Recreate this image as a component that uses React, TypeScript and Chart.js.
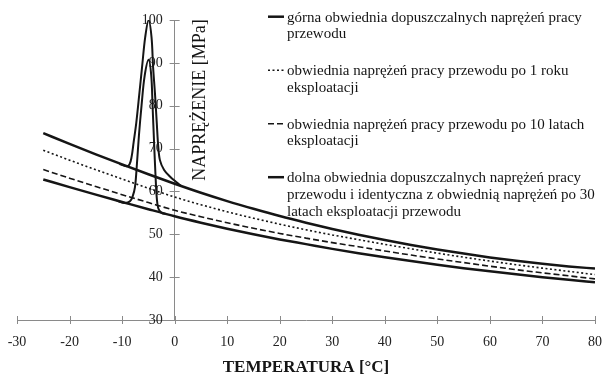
import React, { useEffect, useRef } from "react";
import { Chart, registerables } from "chart.js";

Chart.register(...registerables);

// ---- data ----
const temperatures = [-25, -20, -15, -10, -5, 0, 5, 10, 15, 20, 25, 30, 35, 40, 45, 50, 55, 60, 65, 70, 75, 80];
const upperEnvelope = [73.6, 71.1, 68.65, 66.3, 64.0, 61.8, 59.7, 57.75, 55.95, 54.25, 52.7, 51.25, 49.9, 48.65, 47.5, 46.45, 45.5, 44.6, 43.8, 43.1, 42.5, 42.0];
const afterOneYear = [69.6, 67.3, 65.05, 62.9, 60.75, 58.7, 56.9, 55.25, 53.75, 52.35, 51.05, 49.85, 48.75, 47.65, 46.6, 45.6, 44.65, 43.75, 42.9, 42.1, 41.35, 40.6];
const afterTenYears = [65.1, 63.1, 61.15, 59.25, 57.4, 55.6, 54.1, 52.7, 51.4, 50.2, 49.1, 48.05, 47.1, 46.1, 45.15, 44.25, 43.4, 42.55, 41.75, 41.0, 40.3, 39.6];
const lowerEnvelope = [62.8, 61.0, 59.25, 57.55, 55.85, 54.2, 52.7, 51.3, 50.0, 48.8, 47.7, 46.6, 45.6, 44.65, 43.75, 42.9, 42.1, 41.35, 40.65, 40.0, 39.38, 38.8];

const peakHighX = [-10.5, -9.2, -8.6, -8.2, -7.8, -7.3, -6.7, -6.2, -5.6, -4.95, -4.4, -4.1, -3.75, -3.4, -3.15, -2.8, -2.0, -0.9, 0.3, 1.2];
const peakHighY = [66.4, 65.9, 66.3, 68.0, 71.5, 76.0, 83.0, 89.0, 96.0, 100.0, 96.0, 89.0, 83.0, 76.0, 71.0, 67.3, 65.0, 63.5, 62.2, 61.3];
const peakLowX = [-11.0, -9.4, -8.5, -8.0, -7.55, -7.2, -6.8, -6.3, -5.7, -4.95, -4.45, -4.2, -3.9, -3.65, -3.4, -3.1, -2.5, -1.5];
const peakLowY = [57.8, 57.3, 57.7, 58.8, 61.0, 66.0, 73.0, 80.0, 87.0, 90.7, 87.0, 80.0, 71.0, 64.0, 58.5, 56.0, 55.0, 54.7];

const xMin = -30;
const xMax = 80;
const xStep = 10;
const yMin = 30;
const yMax = 100;
const yStep = 10;

const legendLabels: string[][] = [
  ["górna obwiednia dopuszczalnych naprężeń pracy", "przewodu"],
  ["obwiednia naprężeń pracy przewodu po 1 roku", "eksploatacji"],
  ["obwiednia naprężeń pracy przewodu po 10 latach", "eksploatacji"],
  ["dolna obwiednia dopuszczalnych naprężeń pracy", "przewodu i identyczna z obwiednią naprężeń po 30", "latach eksploatacji przewodu"],
];
const xTitle = "TEMPERATURA [°C]";
const yTitle = "NAPRĘŻENIE [MPa]";

// ---- style ----
const SERIF = "'Liberation Serif', 'Times New Roman', serif";
const INK = "#151515";
const AXIS = "#8a8a8a";

const pts = (xs: number[], ys: number[]) => xs.map((x, i) => ({ x, y: ys[i] }));

const customPlugin = {
  id: "customAxes",
  afterLayout(chart: any) {
    const x = chart.scales.x;
    const y = chart.scales.y;
    const x0 = x.getPixelForValue(0);
    y.right = x0;
    y.left = x0 - 60;
    y.width = 60;
  },
  beforeDatasetsDraw(chart: any) {
    const { ctx } = chart;
    const x = chart.scales.x;
    const y = chart.scales.y;
    const x0 = x.getPixelForValue(0);
    const yBase = y.getPixelForValue(yMin);
    ctx.save();
    ctx.strokeStyle = AXIS;
    ctx.lineWidth = 1;
    ctx.beginPath();
    x.ticks.forEach((t: any) => {
      const px = Math.round(x.getPixelForValue(t.value)) + 0.5;
      ctx.moveTo(px, yBase - 4);
      ctx.lineTo(px, yBase + 4);
    });
    y.ticks.forEach((t: any) => {
      const py = Math.round(y.getPixelForValue(t.value)) + 0.5;
      ctx.moveTo(x0 - 5, py);
      ctx.lineTo(x0 + 5, py);
    });
    ctx.stroke();
    // rotated y-axis title to the right of the axis
    ctx.fillStyle = INK;
    ctx.font = `18px ${SERIF}`;
    ctx.translate(x0 + 26, y.getPixelForValue(yMax) + 80);
    ctx.rotate(-Math.PI / 2);
    ctx.textAlign = "center";
    ctx.textBaseline = "middle";
    ctx.fillText(yTitle, 0, 0);
    ctx.restore();
  },
  afterDraw(chart: any) {
    const { ctx } = chart;
    const ds = chart.data.datasets;
    ctx.save();
    ctx.font = `15px ${SERIF}`;
    ctx.fillStyle = INK;
    ctx.textBaseline = "alphabetic";
    ctx.textAlign = "left";
    const left = 268;
    const textX = 287;
    const firstBase = 21.7;
    const itemGap = 53.5;
    const lineGap = 16.7;
    legendLabels.forEach((lines, i) => {
      const base = firstBase + i * itemGap;
      const d = ds[i];
      ctx.beginPath();
      ctx.strokeStyle = d.borderColor;
      ctx.lineWidth = d.borderWidth;
      ctx.setLineDash(d.borderDash || []);
      ctx.moveTo(left, base - 5);
      ctx.lineTo(left + 16, base - 5);
      ctx.stroke();
      lines.forEach((t, j) => ctx.fillText(t, textX, base + j * lineGap));
    });
    ctx.restore();
  },
};

export default function App() {
  const ref = useRef<HTMLCanvasElement | null>(null);

  useEffect(() => {
    if (!ref.current) return;
    const tickFont = { family: SERIF, size: 14 };
    const chart = new Chart(ref.current, {
      type: "line",
      data: {
        datasets: [
          {
            label: legendLabels[0].join(" "),
            data: pts(temperatures, upperEnvelope),
            borderColor: INK,
            borderWidth: 2.5,
            cubicInterpolationMode: "monotone",
          },
          {
            label: legendLabels[1].join(" "),
            data: pts(temperatures, afterOneYear),
            borderColor: INK,
            borderWidth: 1.6,
            borderDash: [2, 2.5],
            cubicInterpolationMode: "monotone",
          },
          {
            label: legendLabels[2].join(" "),
            data: pts(temperatures, afterTenYears),
            borderColor: INK,
            borderWidth: 1.6,
            borderDash: [6, 3],
            cubicInterpolationMode: "monotone",
          },
          {
            label: legendLabels[3].join(" "),
            data: pts(temperatures, lowerEnvelope),
            borderColor: INK,
            borderWidth: 2.5,
            cubicInterpolationMode: "monotone",
          },
          {
            label: "peak-high",
            data: pts(peakHighX, peakHighY),
            borderColor: INK,
            borderWidth: 2,
            tension: 0.35,
          },
          {
            label: "peak-low",
            data: pts(peakLowX, peakLowY),
            borderColor: INK,
            borderWidth: 2,
            tension: 0.35,
          },
        ],
      },
      options: {
        animation: false,
        responsive: false,
        maintainAspectRatio: false,
        layout: { padding: { left: 17, right: 7, top: 20, bottom: 0 } },
        elements: { point: { radius: 0, hoverRadius: 0 } },
        plugins: { legend: { display: false }, tooltip: { enabled: false } },
        scales: {
          x: {
            type: "linear",
            position: "bottom",
            min: xMin,
            max: xMax,
            ticks: { stepSize: xStep, padding: 14, font: tickFont, color: "#222" },
            grid: { display: false, drawTicks: false },
            border: { color: AXIS, width: 1 },
            title: {
              display: true,
              text: xTitle,
              font: { family: SERIF, size: 17, weight: "bold" },
              color: INK,
              padding: { top: 0, bottom: -4 },
            },
            afterFit: (s: any) => {
              s.height = 54;
              s.paddingLeft = 0;
              s.paddingRight = 0;
            },
          },
          y: {
            type: "linear",
            position: "left",
            min: yMin,
            max: yMax,
            ticks: { stepSize: yStep, padding: 12, font: tickFont, color: "#222" },
            grid: { display: false, drawTicks: false },
            border: { color: AXIS, width: 1 },
            afterFit: (s: any) => {
              s.width = 0;
              s.paddingTop = 0;
              s.paddingBottom = 0;
            },
          },
        },
      } as any,
      plugins: [customPlugin],
    });
    return () => chart.destroy();
  }, []);

  return (
    <div style={{ position: "absolute", left: 0, top: 0, width: 602, height: 374, background: "#fff" }}>
      <canvas ref={ref} width={602} height={374} />
    </div>
  );
}
